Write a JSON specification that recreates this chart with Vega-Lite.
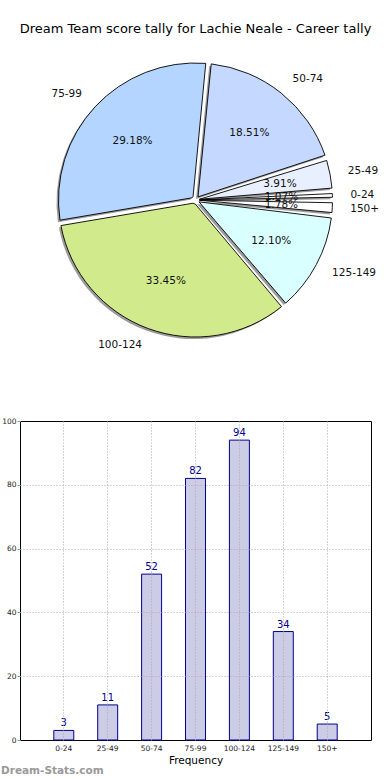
{
  "$schema": "https://vega.github.io/schema/vega-lite/v6.json",
  "padding": {"left": 0, "top": 23, "right": 0, "bottom": 0},
  "background": "white",
  "config": {"font": "DejaVu Sans", "view": {"stroke": null}},
  "datasets": {
    "tally": [
      {"range": "0-24", "lower": 0, "count": 3, "pct": "1.07%"},
      {"range": "25-49", "lower": 25, "count": 11, "pct": "3.91%"},
      {"range": "50-74", "lower": 50, "count": 52, "pct": "18.51%"},
      {"range": "75-99", "lower": 75, "count": 82, "pct": "29.18%"},
      {"range": "100-124", "lower": 100, "count": 94, "pct": "33.45%"},
      {"range": "125-149", "lower": 125, "count": 34, "pct": "12.10%"},
      {"range": "150+", "lower": 150, "count": 5, "pct": "1.78%"}
    ]
  },
  "spacing": 62,
  "vconcat": [
    {
      "title": {"text": "Dream Team score tally for Lachie Neale - Career tally", "fontSize": 13, "fontWeight": "normal", "color": "#000000", "anchor": "middle", "offset": 10},
      "width": 351,
      "height": 308,
      "data": {"name": "tally"},
      "layer": [
        {
          "mark": {"type": "arc", "outerRadius": 137, "innerRadius": 4, "padAngle": 0.04, "fill": "#8a8a8a", "opacity": 0.85, "xOffset": -2, "yOffset": 2},
          "encoding": {
            "theta": {"field": "count", "type": "quantitative", "stack": true, "scale": {"range": [1.5708, -4.7124]}},
            "order": {"field": "lower", "type": "quantitative", "sort": "ascending"}
          }
        },
        {
          "mark": {"type": "arc", "outerRadius": 137, "innerRadius": 4, "padAngle": 0.04, "stroke": "#000000", "strokeWidth": 0.9},
          "encoding": {
            "theta": {"field": "count", "type": "quantitative", "stack": true, "scale": {"range": [1.5708, -4.7124]}},
            "order": {"field": "lower", "type": "quantitative", "sort": "ascending"},
            "color": {"field": "range", "type": "nominal", "legend": null,
              "scale": {"domain": ["0-24", "25-49", "50-74", "75-99", "100-124", "125-149", "150+"],
                        "range": ["#ffffff", "#e8efff", "#c5d8ff", "#b3d5ff", "#d1eb8c", "#d9ffff", "#ffffff"]}}
          }
        },
        {
          "mark": {"type": "text", "radius": 86, "fontSize": 10.5, "color": "#111111"},
          "encoding": {
            "theta": {"field": "count", "type": "quantitative", "stack": true, "scale": {"range": [1.5708, -4.7124]}},
            "order": {"field": "lower", "type": "quantitative", "sort": "ascending"},
            "text": {"field": "pct", "type": "nominal"}
          }
        },
        {
          "mark": {"type": "text", "radius": 155, "fontSize": 10.5, "align": "left", "color": "#111111"},
          "encoding": {
            "theta": {"field": "count", "type": "quantitative", "stack": true, "scale": {"range": [1.5708, -4.7124]}},
            "order": {"field": "lower", "type": "quantitative", "sort": "ascending"},
            "text": {"condition": {"test": "datum.lower != 75 && datum.lower != 100", "field": "range", "type": "nominal"}, "value": ""}
          }
        },
        {
          "mark": {"type": "text", "radius": 155, "fontSize": 10.5, "align": "right", "color": "#111111"},
          "encoding": {
            "theta": {"field": "count", "type": "quantitative", "stack": true, "scale": {"range": [1.5708, -4.7124]}},
            "order": {"field": "lower", "type": "quantitative", "sort": "ascending"},
            "text": {"condition": {"test": "datum.lower == 75 || datum.lower == 100", "field": "range", "type": "nominal"}, "value": ""}
          }
        }
      ]
    },
    {
      "title": {"text": "Dream-Stats.com", "orient": "bottom", "anchor": "start", "frame": "bounds", "fontSize": 10.5, "fontWeight": "bold", "color": "#999999", "offset": 0},
      "width": 351,
      "height": 319,
      "view": {"stroke": "#000000", "strokeWidth": 1},
      "data": {"name": "tally"},
      "encoding": {
        "x": {"field": "range", "type": "ordinal",
          "scale": {"domain": ["0-24", "25-49", "50-74", "75-99", "100-124", "125-149", "150+"], "paddingInner": 0.545, "paddingOuter": 0.77},
          "axis": {"title": "Frequency", "labelAngle": 0, "labelFontSize": 7.5, "labelColor": "#222222", "ticks": false, "labelPadding": 4, "domain": false,
                   "grid": true, "gridColor": "#aaaaaa", "gridDash": [1, 2], "bandPosition": 0.5, "zindex": 1,
                   "titleFontSize": 10.5, "titleFontWeight": "normal", "titleColor": "#000000", "titlePadding": 4}},
        "y": {"field": "count", "type": "quantitative",
          "scale": {"domain": [0, 100], "nice": false},
          "axis": {"title": null, "values": [0, 20, 40, 60, 80, 100], "labelFontSize": 7.5, "labelColor": "#222222", "tickSize": 3, "tickColor": "#999999", "labelPadding": 1, "domain": false,
                   "grid": true, "gridColor": "#aaaaaa", "gridDash": [1, 2], "zindex": 1,
                   "gridOpacity": {"condition": {"test": "datum.value === 0 || datum.value === 100", "value": 0}, "value": 1},
                   "minExtent": 19, "maxExtent": 19}}
      },
      "layer": [
        {"mark": {"type": "bar", "fill": "#ccccE6", "stroke": "#00008b", "strokeWidth": 1}},
        {"mark": {"type": "text", "baseline": "bottom", "dy": -2, "fontSize": 10, "color": "#00008b"},
         "encoding": {"text": {"field": "count", "type": "quantitative"}}}
      ]
    }
  ]
}
